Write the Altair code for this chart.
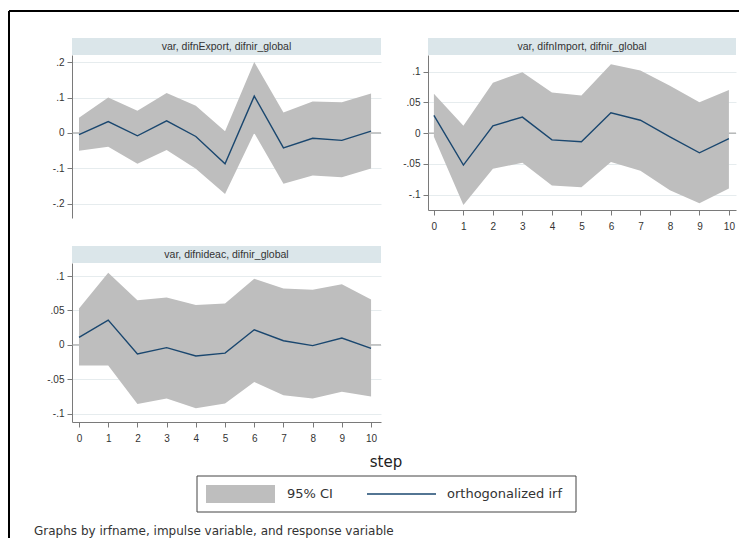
import altair as alt
import pandas as pd

# ---------------- data ----------------
STEPS = list(range(11))

EXPORT_IRF = [-0.005, 0.032, -0.008, 0.034, -0.010, -0.087, 0.104, -0.042, -0.015, -0.021, 0.005]
EXPORT_HI = [0.043, 0.100, 0.063, 0.113, 0.077, 0.005, 0.200, 0.058, 0.089, 0.087, 0.111]
EXPORT_LO = [-0.050, -0.039, -0.087, -0.048, -0.101, -0.172, 0.000, -0.143, -0.120, -0.125, -0.100]

IMPORT_IRF = [0.029, -0.052, 0.012, 0.026, -0.011, -0.014, 0.033, 0.021, -0.006, -0.032, -0.009]
IMPORT_HI = [0.064, 0.012, 0.082, 0.099, 0.066, 0.061, 0.112, 0.102, 0.077, 0.050, 0.070]
IMPORT_LO = [-0.006, -0.117, -0.058, -0.048, -0.085, -0.088, -0.047, -0.061, -0.093, -0.114, -0.090]

IDEAC_IRF = [0.011, 0.036, -0.013, -0.004, -0.016, -0.012, 0.022, 0.006, -0.001, 0.010, -0.005]
IDEAC_HI = [0.053, 0.105, 0.065, 0.069, 0.058, 0.060, 0.096, 0.082, 0.080, 0.088, 0.066]
IDEAC_LO = [-0.030, -0.030, -0.086, -0.078, -0.092, -0.085, -0.054, -0.073, -0.078, -0.068, -0.075]

TITLES = ["var, difnExport, difnir_global", "var, difnImport, difnir_global",
          "var, difnideac, difnir_global"]
YTICKS_EXPORT = [-0.2, -0.1, 0, 0.1, 0.2]
YTICKS_SMALL = [-0.1, -0.05, 0, 0.05, 0.1]
LEGEND_LABELS = ["95% CI", "orthogonalized irf"]
X_TITLE = "step"
NOTE = "Graphs by irfname, impulse variable, and response variable"

# ---------------- styling ----------------
TICK_FONT = "Liberation Sans"
TEXT_FONT = "DejaVu Sans"
BAND = "#bebebe"
LINE = "#1a476f"
HEADER = "#dbe6ea"
AXIS_C = "#7a7a7a"
LABEL_C = "#333333"

STATA_FMT = ("datum.value == 0 ? '0' : (datum.value < 0 ? '-' : '') + "
             "replace(format(abs(datum.value), '~g'), '0.', '.')")


def panel(title, irf, hi, lo, ydom, yticks, xdom, w, h, show_x, frame=False):
    df = pd.DataFrame({"step": STEPS, "irf": irf, "hi": hi, "lo": lo})
    xsc = alt.Scale(domain=xdom, nice=False, zero=False)
    ysc = alt.Scale(domain=ydom, nice=False, zero=False)
    if show_x:
        xax = alt.Axis(values=STEPS, title=None, grid=False, tickSize=5, labelPadding=6,
                       labelFont=TICK_FONT, labelFontSize=10, labelColor=LABEL_C,
                       domainColor=AXIS_C, tickColor=AXIS_C, labelFlush=False)
    else:
        xax = None
    yax = alt.Axis(values=yticks, title=None, grid=True, gridColor="#e6ecee", tickSize=5,
                   labelPadding=3, labelExpr=STATA_FMT, labelFont=TICK_FONT, labelFontSize=10,
                   labelColor=LABEL_C, domainColor=AXIS_C, tickColor=AXIS_C)
    X = alt.X("step:Q", scale=xsc, axis=xax)

    base = alt.Chart(df)
    zero = alt.Chart(pd.DataFrame({"z": [0.0]})).mark_rule(color="#9a9a9a", strokeWidth=1).encode(
        y=alt.Y("z:Q", scale=ysc, axis=yax))
    band = base.mark_area(color=BAND, opacity=1).encode(
        x=X, y=alt.Y("hi:Q", scale=ysc, axis=yax), y2="lo:Q")
    line = base.mark_line(color=LINE, strokeWidth=1.4).encode(
        x=X, y=alt.Y("irf:Q", scale=ysc, axis=yax))

    hdr = alt.Chart(pd.DataFrame({"t": [title]}))
    head_rect = hdr.mark_rect(color=HEADER).encode(
        x=alt.value(0), x2=alt.value(w), y=alt.value(-17), y2=alt.value(0))
    head_text = hdr.mark_text(font=TICK_FONT, fontSize=10.5, color=LABEL_C,
                              align="center", baseline="middle").encode(
        text="t:N", x=alt.value(w / 2), y=alt.value(-8.5))

    layers = [head_rect, head_text, zero, band, line]
    if frame:
        fr = alt.Chart(pd.DataFrame({"a": [0]}))
        left = fr.mark_rule(color="black", strokeWidth=2).encode(
            x=alt.value(-63), y=alt.value(-44), y2=alt.value(483))
        top = fr.mark_rule(color="black", strokeWidth=2).encode(
            x=alt.value(-63), x2=alt.value(667), y=alt.value(-44))
        layers += [left, top]
    return alt.layer(*layers).properties(width=w, height=h)


p1 = panel(TITLES[0], EXPORT_IRF, EXPORT_HI, EXPORT_LO, [-0.24, 0.22], YTICKS_EXPORT,
           [-0.24, 10.34], 309, 163, False, frame=True)
p2 = panel(TITLES[1], IMPORT_IRF, IMPORT_HI, IMPORT_LO, [-0.125, 0.127], YTICKS_SMALL,
           [-0.2, 10.24], 308, 155, True)
p3 = panel(TITLES[2], IDEAC_IRF, IDEAC_HI, IDEAC_LO, [-0.112, 0.119], YTICKS_SMALL,
           [-0.24, 10.34], 309, 159, True)

# empty cell to the right of panel 3
blank = alt.Chart(pd.DataFrame({"a": [0]})).mark_point(opacity=0).encode(
    x=alt.value(0), y=alt.value(0)).properties(width=308, height=1)

# ---------------- bottom: x title, legend box, note ----------------
# view top sits 45px below panel 3; marks are placed relative to it
b = alt.Chart(pd.DataFrame({"a": [0]}))
step_txt = b.mark_text(font=TEXT_FONT, fontSize=15, color="#222", align="center",
                       baseline="middle").encode(x=alt.value(314), y=alt.value(-5),
                                                  text=alt.value(X_TITLE))
box = b.mark_rect(fill="white", stroke="#444", strokeWidth=1).encode(
    x=alt.value(125), x2=alt.value(504), y=alt.value(9), y2=alt.value(45))
swatch = b.mark_rect(color=BAND).encode(
    x=alt.value(134), x2=alt.value(203), y=alt.value(18), y2=alt.value(36))
lab1 = b.mark_text(font=TEXT_FONT, fontSize=13, color=LABEL_C, align="left",
                   baseline="middle").encode(x=alt.value(215), y=alt.value(27),
                                              text=alt.value(LEGEND_LABELS[0]))
sample = b.mark_rule(color=LINE, strokeWidth=1.5).encode(
    x=alt.value(295), x2=alt.value(364), y=alt.value(27))
lab2 = b.mark_text(font=TEXT_FONT, fontSize=13, color=LABEL_C, align="left",
                   baseline="middle").encode(x=alt.value(375), y=alt.value(27),
                                              text=alt.value(LEGEND_LABELS[1]))
note = b.mark_text(font=TEXT_FONT, fontSize=12, color=LABEL_C, align="left",
                   baseline="middle").encode(x=alt.value(-38), y=alt.value(64),
                                              text=alt.value(NOTE))
bottom = alt.layer(step_txt, box, swatch, lab1, sample, lab2, note).properties(width=309, height=68)

chart = alt.concat(p1, p2, p3, blank, bottom, columns=2, spacing={"row": 45, "column": 47},
                   bounds="flush", align="each").properties(
    padding={"left": 0, "top": 2, "right": 0, "bottom": 0},
    background="white",
).configure_view(strokeWidth=0)

chart.save("out.html", embed_options={"renderer": "svg", "actions": False})
